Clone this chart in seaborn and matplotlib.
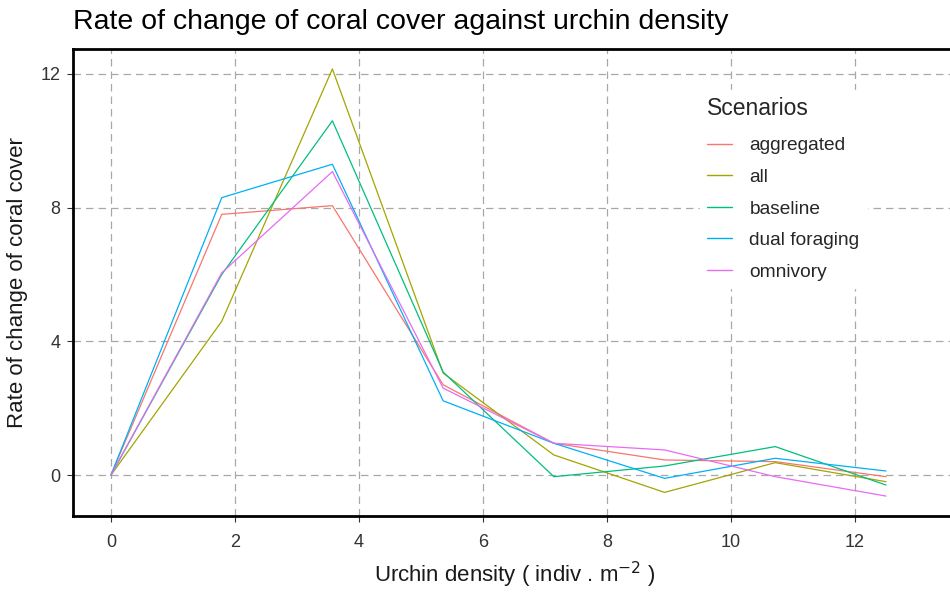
import matplotlib
matplotlib.use("Agg")
import matplotlib.pyplot as plt
import seaborn as sns
import pandas as pd

# ---- data ----
density = [0, 1.786, 3.571, 5.357, 7.143, 8.929, 10.714, 12.5]
scenarios = ["aggregated", "all", "baseline", "dual foraging", "omnivory"]
aggregated = [0, 7.8, 8.06, 2.7, 0.95, 0.45, 0.4, -0.05]
all_ = [0, 4.6, 12.15, 3.05, 0.6, -0.52, 0.37, -0.2]
baseline = [0, 6.0, 10.6, 3.08, -0.05, 0.27, 0.85, -0.3]
dual_foraging = [0, 8.3, 9.3, 2.22, 0.95, -0.1, 0.5, 0.12]
omnivory = [0, 6.05, 9.08, 2.6, 0.95, 0.75, -0.05, -0.63]
colors = ["#F8766D", "#A3A500", "#00BF7D", "#00B0F6", "#E76BF3"]
x_ticks = [0, 2, 4, 6, 8, 10, 12]
y_ticks = [0, 4, 8, 12]

series = [aggregated, all_, baseline, dual_foraging, omnivory]
rows = []
for name, vals in zip(scenarios, series):
    for xv, yv in zip(density, vals):
        rows.append({"density": xv, "rate": yv, "Scenarios": name})
df = pd.DataFrame(rows)

sns.set_theme(style="white")
plt.rcParams["font.family"] = ["Liberation Sans", "DejaVu Sans"]

fig = plt.figure(figsize=(9.5, 5.93), dpi=100)
W, H = 950, 593
left, right, top, bottom = 73, 985, 49, 516
ax = fig.add_axes([left / W, 1 - bottom / H, (right - left) / W, (bottom - top) / H])

sns.lineplot(data=df, x="density", y="rate", hue="Scenarios", hue_order=scenarios,
             palette=colors, linewidth=0.9, ax=ax, estimator=None, sort=False)

xpp = 62.0
ax.set_xlim(-(111 - left) / xpp, -(111 - left) / xpp + (right - left) / xpp)
ypp = 33.42
ax.set_ylim(-(bottom - 475) / ypp, 12 + (74 - top) / ypp)
ax.set_xticks(x_ticks)
ax.set_yticks(y_ticks)
ax.grid(True, color="#a8a8a8", linestyle=(0, (6, 4)), linewidth=0.9)
ax.set_axisbelow(True)
for s in ["left", "bottom", "top", "right"]:
    ax.spines[s].set_color("black")
    ax.spines[s].set_linewidth(2.0)
ax.tick_params(axis="both", which="major", length=4, width=0.8, color="#333333",
               labelsize=13, labelcolor="#333333", direction="out", pad=5,
               bottom=True, left=True)
ax.tick_params(axis="x", pad=9)

ax.set_xlabel("Urchin density ( indiv . m$^{-2}$ )", fontsize=16, color="#1a1a1a")
ax.xaxis.set_label_coords((515 - left) / (right - left), -(560 - bottom) / (bottom - top))
ax.set_ylabel("Rate of change of coral cover", fontsize=16, color="#1a1a1a", labelpad=9)
fig.text(73 / W, 1 - 22 / H, "Rate of change of coral cover against urchin density",
         fontsize=20.5, color="black", ha="left", va="center")

ax.get_legend().remove()
handles, labels = ax.get_legend_handles_labels()
leg = ax.legend(handles, labels, title="Scenarios", loc="upper left",
                bbox_to_anchor=(690 / W, 1 - 80 / H), bbox_transform=fig.transFigure,
                frameon=True, facecolor="white", edgecolor="white", framealpha=1,
                fontsize=13.8, title_fontsize=16.5, handlelength=1.3, handletextpad=0.9,
                labelspacing=0.74, borderpad=0.4)
leg._legend_box.align = "left"
leg._legend_box.sep = 12
for h in leg.legend_handles:
    h.set_linewidth(1.0)

fig.savefig("out.png", dpi=100)
